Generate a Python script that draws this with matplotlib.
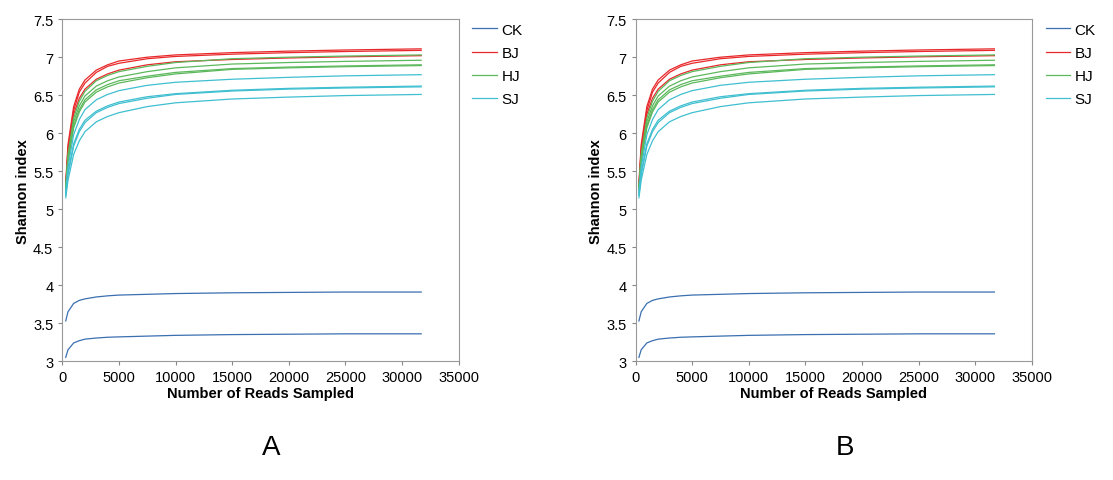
import numpy as np
import matplotlib.pyplot as plt

plt.rcParams['font.family'] = ['Liberation Sans', 'DejaVu Sans']

# sampled read depths
reads = [300, 500, 1000, 1500, 2000, 3000, 4000, 5000, 7500, 10000, 15000, 20000, 25000, 31700]

ck_curves = [
    [3.53, 3.65, 3.76, 3.80, 3.82, 3.845, 3.86, 3.87, 3.88, 3.89, 3.90, 3.905, 3.91, 3.91],
    [3.05, 3.15, 3.24, 3.27, 3.29, 3.305, 3.315, 3.32, 3.33, 3.34, 3.35, 3.355, 3.36, 3.36],
]
bj_curves = [
    [5.35, 5.85, 6.35, 6.58, 6.70, 6.83, 6.90, 6.95, 7.00, 7.03, 7.06, 7.08, 7.095, 7.11],
    [5.30, 5.80, 6.30, 6.54, 6.66, 6.80, 6.88, 6.92, 6.98, 7.01, 7.04, 7.06, 7.075, 7.09],
    [5.30, 5.75, 6.25, 6.46, 6.58, 6.71, 6.78, 6.83, 6.90, 6.94, 6.97, 6.99, 7.005, 7.02],
]
hj_curves = [
    [5.30, 5.72, 6.20, 6.42, 6.55, 6.69, 6.76, 6.81, 6.88, 6.93, 6.98, 7.00, 7.015, 7.03],
    [5.28, 5.68, 6.15, 6.36, 6.49, 6.62, 6.69, 6.74, 6.81, 6.86, 6.91, 6.93, 6.945, 6.96],
    [5.25, 5.64, 6.10, 6.31, 6.44, 6.57, 6.64, 6.69, 6.75, 6.80, 6.85, 6.87, 6.885, 6.90],
    [5.25, 5.62, 6.07, 6.28, 6.41, 6.54, 6.61, 6.66, 6.73, 6.78, 6.84, 6.86, 6.875, 6.89],
]
sj_curves = [
    [5.22, 5.55, 5.98, 6.18, 6.31, 6.44, 6.51, 6.56, 6.63, 6.67, 6.71, 6.735, 6.755, 6.77],
    [5.20, 5.48, 5.86, 6.05, 6.17, 6.29, 6.36, 6.41, 6.48, 6.52, 6.565, 6.59, 6.605, 6.62],
    [5.18, 5.45, 5.83, 6.02, 6.14, 6.27, 6.34, 6.39, 6.46, 6.51, 6.555, 6.58, 6.595, 6.61],
    [5.15, 5.38, 5.72, 5.90, 6.02, 6.15, 6.22, 6.27, 6.35, 6.40, 6.45, 6.475, 6.495, 6.51],
]

groups = [
    ('CK', '#3a6fb0', ck_curves),
    ('BJ', '#e8282a', bj_curves),
    ('HJ', '#5cb85c', hj_curves),
    ('SJ', '#3fbfd0', sj_curves),
]

fig = plt.figure(figsize=(11.13, 4.81), dpi=100)
panels = [(0.056, 'A'), (0.571, 'B')]

for left, tag in panels:
    ax = fig.add_axes([left, 0.247, 0.356, 0.711])
    for name, color, curves in groups:
        for i, c in enumerate(curves):
            ax.plot(reads, c, color=color, lw=0.9, label=name if i == 0 else None)
    ax.set_xlim(0, 35000)
    ax.set_ylim(3, 7.5)
    ax.set_xticks(np.arange(0, 35001, 5000))
    ax.set_yticks(np.arange(3, 7.51, 0.5))
    ax.set_yticklabels(['3', '3.5', '4', '4.5', '5', '5.5', '6', '6.5', '7', '7.5'])
    ax.tick_params(labelsize=10.5, length=3, color='#888888')
    for s in ax.spines.values():
        s.set_color('#999999')
    ax.set_xlabel('Number of Reads Sampled', fontsize=10.5, fontweight='bold', labelpad=1)
    ax.set_ylabel('Shannon index', fontsize=10.5, fontweight='bold', labelpad=2)
    ax.legend(loc='upper left', bbox_to_anchor=(1.0, 1.03), frameon=False,
              fontsize=11, handlelength=1.6, handletextpad=0.3, labelspacing=0.6)
    fig.text(left + 0.188, 0.055, tag, fontsize=20, ha='center')

fig.savefig('out.png', dpi=100)
